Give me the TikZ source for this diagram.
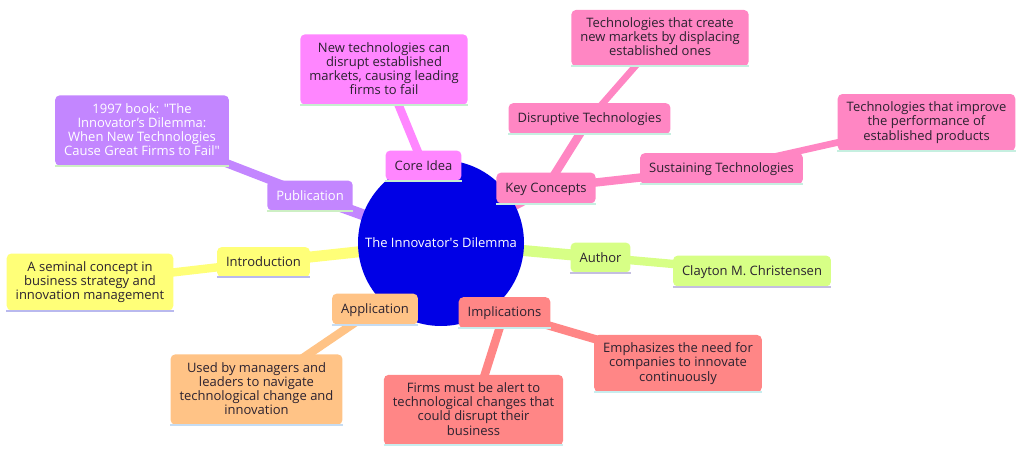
\documentclass[tikz,border=0pt]{standalone}
\usepackage{fontspec}
\setmainfont{Open Sans}
\usetikzlibrary{backgrounds}
\definecolor{idmRoot}{HTML}{0000E6}
\definecolor{idmYellow}{HTML}{FFFF78}
\definecolor{idmLime}{HTML}{D7FF86}
\definecolor{idmPurple}{HTML}{C386FF}
\definecolor{idmMagenta}{HTML}{FF86FF}
\definecolor{idmPink}{HTML}{FF86C3}
\definecolor{idmRed}{HTML}{FF8686}
\definecolor{idmOrange}{HTML}{FFC386}
\definecolor{idmInk}{HTML}{2B2230}
% underline colours
\definecolor{idmYellowLn}{HTML}{B9B9EE}
\definecolor{idmLimeLn}{HTML}{C4BEE0}
\definecolor{idmPurpleLn}{HTML}{CDEFC4}
\definecolor{idmMagentaLn}{HTML}{C6EFCF}
\definecolor{idmPinkLn}{HTML}{C6EFE0}
\definecolor{idmRedLn}{HTML}{C8EDEE}
\definecolor{idmOrangeLn}{HTML}{C6DCF2}
\newcommand{\idmfont}{\fontsize{9.75}{10.6}\selectfont}
\newcommand{\idmstrut}{\rule[-1.7pt]{0pt}{10.6pt}}
\tikzset{
  idmroot/.style={circle,fill=idmRoot,minimum size=124.5pt,inner sep=0pt,
                  text=white,font=\idmfont},
  idmnode/.style={rectangle,rounded corners=3.5pt,inner xsep=6.75pt,
                  inner ysep=5.9pt,align=center,font=\idmfont,text=idmInk,
                  execute at begin node=\idmstrut,execute at end node=\idmstrut},
  idmsec/.style={idmnode,fill=idm#1,
                 append after command={(\tikzlastnode.south west)
                   edge[draw=idm#1Ln,line width=1.5pt,sharp corners]
                   (\tikzlastnode.south east)}},
  idmedgeA/.style={line width=8.25pt,draw=idm#1},
  idmedgeB/.style={line width=6.3pt,draw=idm#1},
  idmedgeC/.style={line width=5pt,draw=idm#1}
}

\begin{document}
\begin{tikzpicture}[x=0.75pt,y=-0.75pt]
  \useasboundingbox (0,0) rectangle (1024,457);

  \node[idmroot] (root) at (441,243) {The Innovator\textquotesingle s Dilemma};

  % publication
  \node[idmsec=Purple,text=white] (pub) at (310,195.5) {Publication};
  \node[idmsec=Purple,text=white] (publeaf) at (142,130.5)
    {1997 book: \textquotedbl The\\Innovator's Dilemma:\\When New Technologies\\Cause Great Firms to Fail\textquotedbl};

  % introduction
  \node[idmsec=Yellow] (intro) at (263.5,262) {Introduction};
  \node[idmsec=Yellow] (introleaf) at (90,282)
    {A seminal concept in\\business strategy and\\innovation management};

  % core idea
  \node[idmsec=Magenta] (core) at (423.5,165.5) {Core Idea};
  \node[idmsec=Magenta] (coreleaf) at (384,69.5)
    {New technologies can\\disrupt established\\markets, causing leading\\firms to fail};

  % key concepts
  \node[idmsec=Pink] (key) at (546,188) {Key Concepts};
  \node[idmsec=Pink] (disr) at (589.5,118.5) {Disruptive Technologies};
  \node[idmsec=Pink] (disrleaf) at (660,38)
    {Technologies that create\\new markets by displacing\\established ones};
  \node[idmsec=Pink] (sust) at (721.5,168.5) {Sustaining Technologies};
  \node[idmsec=Pink] (sustleaf) at (926.5,122.5)
    {Technologies that improve\\the performance of\\established products};

  % author
  \node[idmsec=Lime] (author) at (600.5,257.5) {Author};
  \node[idmsec=Lime] (authleaf) at (752,271) {Clayton M. Christensen};

  % application
  \node[idmsec=Orange] (app) at (375,309) {Application};
  \node[idmsec=Orange] (appleaf) at (256.5,389.5)
    {Used by managers and\\leaders to navigate\\technological change and\\innovation};

  % implications
  \node[idmsec=Red] (impl) at (504.5,312.5) {Implications};
  \node[idmsec=Red] (implleafa) at (473.5,410)
    {Firms must be alert to\\technological changes that\\could disrupt their\\business};
  \node[idmsec=Red] (implleafb) at (678,363.5)
    {Emphasizes the need for\\companies to innovate\\continuously};

  \begin{scope}[on background layer]
    \draw[idmedgeA=Purple] (root.center) -- (pub.center);
    \draw[idmedgeA=Yellow] (root.center) -- (intro.center);
    \draw[idmedgeA=Magenta] (root.center) -- (core.center);
    \draw[idmedgeA=Pink] (root.center) -- (key.center);
    \draw[idmedgeA=Lime] (root.center) -- (author.center);
    \draw[idmedgeA=Orange] (root.center) -- (app.center);
    \draw[idmedgeA=Red] (root.center) -- (impl.center);
    \draw[idmedgeB=Purple] (pub.center) -- (publeaf.center);
    \draw[idmedgeB=Yellow] (intro.center) -- (introleaf.center);
    \draw[idmedgeB=Magenta] (core.center) -- (coreleaf.center);
    \draw[idmedgeB=Pink] (key.center) -- (disr.center);
    \draw[idmedgeB=Pink] (key.center) -- (sust.center);
    \draw[idmedgeB=Lime] (author.center) -- (authleaf.center);
    \draw[idmedgeB=Orange] (app.center) -- (appleaf.center);
    \draw[idmedgeB=Red] (impl.center) -- (implleafa.center);
    \draw[idmedgeB=Red] (impl.center) -- (implleafb.center);
    \draw[idmedgeC=Pink] (disr.center) -- (disrleaf.center);
    \draw[idmedgeC=Pink] (sust.center) -- (sustleaf.center);
  \end{scope}
\end{tikzpicture}
\end{document}
